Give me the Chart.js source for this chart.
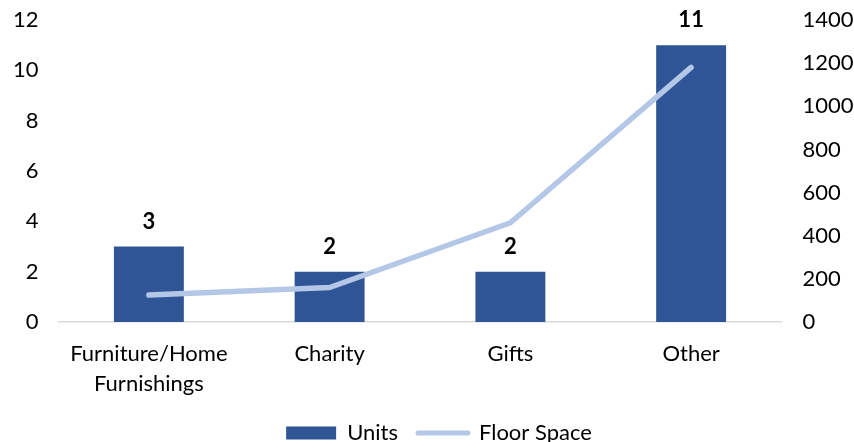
<!DOCTYPE html>
<html>
<head>
<meta charset="utf-8">
<script src="https://cdn.jsdelivr.net/npm/chart.js@4/dist/chart.umd.min.js"></script>
<style>
  html, body { margin: 0; padding: 0; background: #fff; overflow: hidden; }
  #wrap { width: 854px; height: 442px; overflow: hidden; }
</style>
</head>
<body>
<div id="wrap"><canvas id="chart" width="854" height="454"></canvas></div>
<script>
const categories = [['Furniture/Home', 'Furnishings'], 'Charity', 'Gifts', 'Other'];
const units = [3, 2, 2, 11];
const floorSpace = [125, 160, 460, 1180];
const unitTicks = [0, 2, 4, 6, 8, 10, 12];
const spaceTicks = [0, 200, 400, 600, 800, 1000, 1200, 1400];

const FONT = 'Lato, "Open Sans", sans-serif';
const BAR_BLUE = '#2F5597';
const LINE_BLUE = '#B4C7E7';

// bold value printed above each bar
const barValues = {
  id: 'barValues',
  afterDatasetsDraw(chart) {
    const meta = chart.getDatasetMeta(0);
    const ctx = chart.ctx;
    ctx.save();
    ctx.font = 'bold 22px ' + FONT;
    ctx.fillStyle = '#000';
    ctx.textAlign = 'center';
    ctx.textBaseline = 'middle';
    meta.data.forEach((bar, i) => {
      ctx.fillText(String(units[i]), bar.x, bar.y - 25);
    });
    ctx.restore();
  }
};

// nudge the legend a little to the right of the canvas centre
const legendShift = {
  id: 'legendShift',
  beforeDraw(chart) {
    chart.legend.left = 12;
    chart.legend.right = chart.width + 12;
  }
};

// fixed axis sizes, no extra room for half labels
function fixWidth(w) {
  return scale => {
    scale.width = w;
    scale.paddingTop = 0;
    scale.paddingBottom = 0;
  };
}

new Chart(document.getElementById('chart'), {
  type: 'bar',
  data: {
    labels: categories,
    datasets: [
      {
        type: 'bar',
        label: 'Units',
        data: units,
        backgroundColor: BAR_BLUE,
        yAxisID: 'y',
        categoryPercentage: 1,
        barPercentage: 0.387,
        order: 2
      },
      {
        type: 'line',
        label: 'Floor Space',
        data: floorSpace,
        borderColor: LINE_BLUE,
        backgroundColor: LINE_BLUE,
        borderWidth: 5.5,
        borderCapStyle: 'round',
        borderJoinStyle: 'round',
        pointRadius: 0,
        yAxisID: 'y1',
        order: 1
      }
    ]
  },
  options: {
    responsive: false,
    animation: false,
    layout: { padding: { top: 20, left: 0, right: 0, bottom: 0 } },
    scales: {
      x: {
        grid: { display: false, drawTicks: false },
        border: { display: true, color: '#D9D9D9', width: 1.5 },
        ticks: {
          color: '#000',
          padding: 17,
          maxRotation: 0,
          font: { family: FONT, size: 22, lineHeight: 1.35 }
        },
        afterFit(scale) {
          scale.height = 80;
          scale.paddingLeft = 0;
          scale.paddingRight = 0;
        }
      },
      y: {
        position: 'left',
        min: 0,
        max: 12,
        grid: { display: false, drawTicks: false },
        border: { display: false },
        afterBuildTicks(scale) { scale.ticks = unitTicks.map(v => ({ value: v })); },
        ticks: {
          color: '#000',
          padding: 20,
          font: { family: FONT, size: 22 },
          callback: v => String(v)
        },
        afterFit: fixWidth(58.5)
      },
      y1: {
        position: 'right',
        min: 0,
        max: 1400,
        grid: { display: false, drawTicks: false },
        border: { display: false },
        afterBuildTicks(scale) { scale.ticks = spaceTicks.map(v => ({ value: v })); },
        ticks: {
          color: '#000',
          padding: 21,
          font: { family: FONT, size: 22 },
          callback: v => String(v)
        },
        afterFit: fixWidth(72.5)
      }
    },
    plugins: {
      tooltip: { enabled: false },
      legend: {
        position: 'bottom',
        labels: {
          color: '#000',
          font: { family: FONT, size: 22 },
          usePointStyle: true,
          pointStyleWidth: 50,
          boxHeight: 13,
          padding: 20,
          sort: (a, b) => a.datasetIndex - b.datasetIndex,
          generateLabels(chart) {
            const items = Chart.defaults.plugins.legend.labels.generateLabels(chart);
            items.forEach(item => {
              if (item.datasetIndex === 0) {
                item.pointStyle = 'rect';
                item.fillStyle = BAR_BLUE;
                item.lineWidth = 0;
              } else {
                item.pointStyle = 'line';
                item.strokeStyle = LINE_BLUE;
                item.lineWidth = 5;
                item.lineCap = 'round';
              }
            });
            return items;
          }
        }
      }
    }
  },
  plugins: [barValues, legendShift]
});
</script>
</body>
</html>
